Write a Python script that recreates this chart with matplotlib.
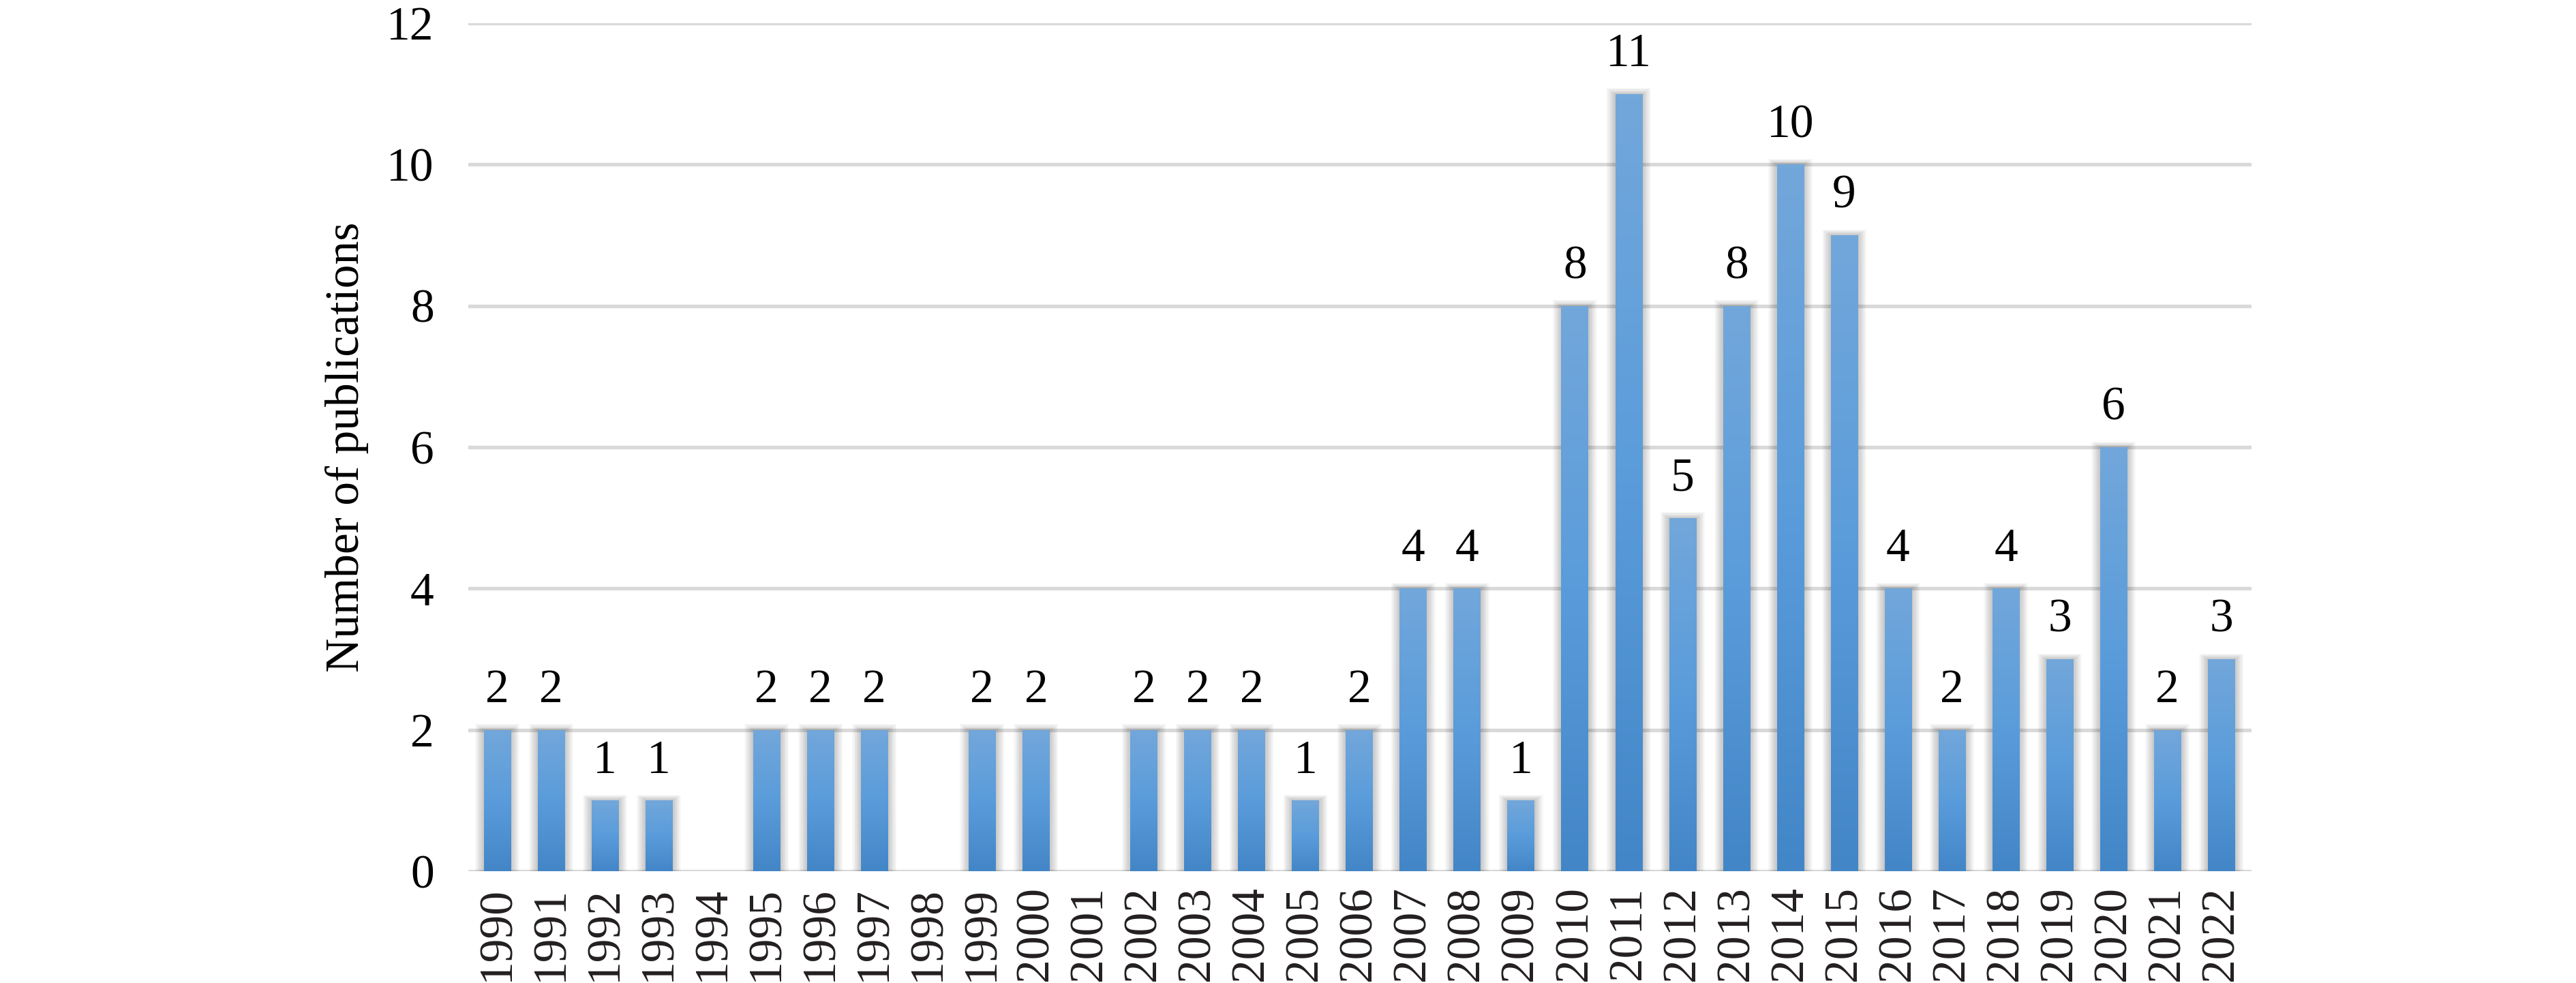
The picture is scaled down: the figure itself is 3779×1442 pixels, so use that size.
import numpy as np
import matplotlib
matplotlib.use("Agg")
import matplotlib.pyplot as plt
from matplotlib.colors import LinearSegmentedColormap

years = [str(y) for y in range(1990, 2023)]
counts = [2, 2, 1, 1, 0, 2, 2, 2, 0, 2, 2, 0, 2, 2, 2, 1, 2, 4, 4, 1,
          8, 11, 5, 8, 10, 9, 4, 2, 4, 3, 6, 2, 3]
yticks = [0, 2, 4, 6, 8, 10, 12]
ylabel = "Number of publications"

plt.rcParams['font.family'] = ['Liberation Serif', 'DejaVu Serif']

fig = plt.figure(figsize=(37.8, 14.42), dpi=100)
ax = fig.add_axes([0.1817, 0.1137, 0.6921, 0.8627])

x = np.arange(len(years))
vals = np.array(counts, dtype=float)
width = 0.5

# gridlines
for t in yticks:
    ax.axhline(t, color='#d9d9d9', lw=3.8, zorder=0.5)

# soft shadow behind bars
nz = vals > 0
for k in range(1, 9):
    ax.bar(x[nz], vals[nz] + 0.01 * k, width=width + 0.04 * k, color='black',
           alpha=0.028, lw=0, zorder=1)

bars = ax.bar(x, vals, width=width, color='#5b9bd5', lw=0, zorder=2)

cmap = LinearSegmentedColormap.from_list('g', ['#4386c7', '#5a9cdb', '#72a7da'])
grad = np.linspace(0, 1, 256).reshape(-1, 1)
for b in bars:
    if b.get_height() <= 0:
        continue
    x0 = b.get_x()
    im = ax.imshow(grad, cmap=cmap, aspect='auto', origin='lower',
                   extent=[x0, x0 + b.get_width(), 0, b.get_height()],
                   zorder=2.5, interpolation='bicubic')
    im.set_clip_path(b)

for xi, v in zip(x, counts):
    if v > 0:
        ax.annotate(str(v), (xi, v), xytext=(0, 29), textcoords='offset points',
                    ha='center', va='baseline', fontsize=50, color='black')

ax.set_xlim(-0.54, len(years) - 1 + 0.56)
ax.set_ylim(0, 12)
ax.set_yticks(yticks)
ax.set_yticklabels([str(t) for t in yticks], fontsize=50)
ax.set_xticks(x)
ax.set_xticklabels(years, rotation=90, fontsize=50, color='#231f20')
ax.tick_params(axis='y', length=0, pad=36)
ax.tick_params(axis='x', length=0, pad=16)
for s in ax.spines.values():
    s.set_visible(False)
ax.set_ylabel(ylabel, fontsize=50, labelpad=19)

fig.savefig('out.png', dpi=100)
